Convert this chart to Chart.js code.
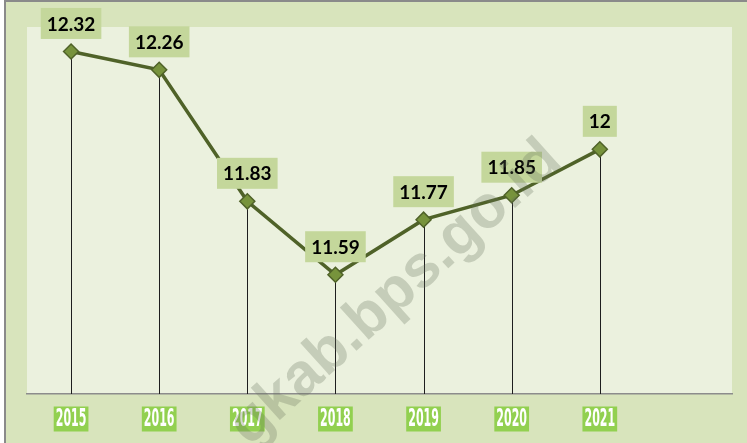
<!DOCTYPE html>
<html>
<head>
<meta charset="utf-8">
<script src="https://cdn.jsdelivr.net/npm/chart.js@4.4.0/dist/chart.umd.min.js"></script>
<style>
    html, body { margin: 0; padding: 0; background: #fff; }
    #wrap { width: 747px; height: 443px; }
</style>
</head>
<body>
<div id="wrap"><canvas id="lineChart"></canvas></div>
<script>
// Dữ liệu
const years = ['2015', '2016', '2017', '2018', '2019', '2020', '2021', ''];
const values = [12.32, 12.26, 11.83, 11.59, 11.77, 11.85, 12];
const yMin = 11.2;
const yMax = 12.4;
const watermark = 'gkab.bps.go.id';

// Nền ngoài + vùng vẽ
const bgPlugin = {
    id: 'bg',
    beforeDraw(chart) {
        const ctx = chart.ctx;
        const a = chart.chartArea;
        ctx.save();
        ctx.fillStyle = '#ffffff';
        ctx.fillRect(0, 0, chart.width, chart.height);
        ctx.fillStyle = '#d8e4bc';
        ctx.fillRect(5, 2, chart.width - 5, chart.height - 2);
        ctx.fillStyle = '#8a8a8a';
        ctx.fillRect(4, 0, chart.width - 4, 2);
        ctx.fillRect(4, 0, 2, chart.height);
        ctx.fillStyle = '#ebf1de';
        ctx.fillRect(a.left, a.top, a.right - a.left, a.bottom - a.top);
        ctx.restore();
    }
};

// Đường thả xuống trục x
const dropLines = {
    id: 'dropLines',
    beforeDatasetsDraw(chart) {
        const ctx = chart.ctx;
        const meta = chart.getDatasetMeta(0);
        ctx.save();
        ctx.strokeStyle = '#1e1e1e';
        ctx.lineWidth = 1;
        meta.data.forEach(p => {
            const x = Math.round(p.x) + 0.5;
            ctx.beginPath();
            ctx.moveTo(x, p.y);
            ctx.lineTo(x, chart.chartArea.bottom);
            ctx.stroke();
        });
        ctx.restore();
    }
};

// Nhãn giá trị
const valueLabels = {
    id: 'valueLabels',
    afterDatasetsDraw(chart) {
        const ctx = chart.ctx;
        const meta = chart.getDatasetMeta(0);
        ctx.save();
        ctx.font = 'bold 19px Lato, "Liberation Sans", sans-serif';
        ctx.textAlign = 'center';
        ctx.textBaseline = 'middle';
        meta.data.forEach((p, i) => {
            const txt = String(values[i]);
            const w = ctx.measureText(txt).width + 12;
            const h = 31;
            const cy = p.y - 28;
            ctx.fillStyle = '#c4d79b';
            ctx.fillRect(p.x - w / 2, cy - h / 2, w, h);
            ctx.fillStyle = '#000';
            ctx.fillText(txt, p.x, cy + 1);
        });
        ctx.restore();
    }
};

// Nhãn năm (chữ hẹp, nền xanh)
const yearLabels = {
    id: 'yearLabels',
    afterDraw(chart) {
        const ctx = chart.ctx;
        const xs = chart.scales.x;
        const cy = xs.top + 25;
        ctx.save();
        ctx.font = 'bold 24px "DejaVu Sans", sans-serif';
        ctx.textAlign = 'center';
        ctx.textBaseline = 'middle';
        const sx = 0.46;
        years.forEach((lab, i) => {
            if (!lab) return;
            const x = xs.getPixelForValue(i);
            const w = ctx.measureText(lab).width * sx + 4;
            ctx.fillStyle = '#92d050';
            ctx.fillRect(x - w / 2, cy - 12.5, w, 25);
            ctx.save();
            ctx.translate(x, cy + 1);
            ctx.scale(sx, 1);
            ctx.fillStyle = '#ffffff';
            ctx.fillText(lab, 0, 0);
            ctx.restore();
        });
        ctx.restore();
    }
};

// Watermark
const wmPlugin = {
    id: 'wm',
    afterDraw(chart) {
        const ctx = chart.ctx;
        ctx.save();
        ctx.translate(564, 164);
        ctx.rotate(-42 * Math.PI / 180);
        ctx.font = 'bold 60px "Liberation Sans", sans-serif';
        ctx.fillStyle = 'rgba(100, 110, 90, 0.28)';
        ctx.textAlign = 'right';
        ctx.textBaseline = 'alphabetic';
        ctx.fillText(watermark, 0, 0);
        ctx.restore();
    }
};

const config = {
    type: 'line',
    data: {
        labels: years,
        datasets: [{
            data: values,
            borderColor: '#4f6228',
            borderWidth: 3.5,
            tension: 0,
            fill: false,
            pointStyle: 'rectRot',
            pointRadius: 7.5,
            pointBackgroundColor: '#77933c',
            pointBorderColor: '#4f6228',
            pointBorderWidth: 1.5
        }]
    },
    options: {
        responsive: true,
        maintainAspectRatio: false,
        animation: false,
        devicePixelRatio: 1,
        layout: { padding: { left: 27, top: 27, right: 15, bottom: 0 } },
        plugins: {
            legend: { display: false },
            tooltip: { enabled: false }
        },
        scales: {
            x: {
                offset: true,
                grid: { display: false, drawTicks: false },
                border: { display: true, color: '#8c8c8c', width: 1.5 },
                ticks: { display: false },
                afterFit: s => { s.height = 49; }
            },
            y: {
                display: false,
                min: yMin,
                max: yMax
            }
        }
    },
    plugins: [bgPlugin, dropLines, valueLabels, yearLabels, wmPlugin]
};

const lineChart = new Chart(document.getElementById('lineChart'), config);
</script>
</body>
</html>
